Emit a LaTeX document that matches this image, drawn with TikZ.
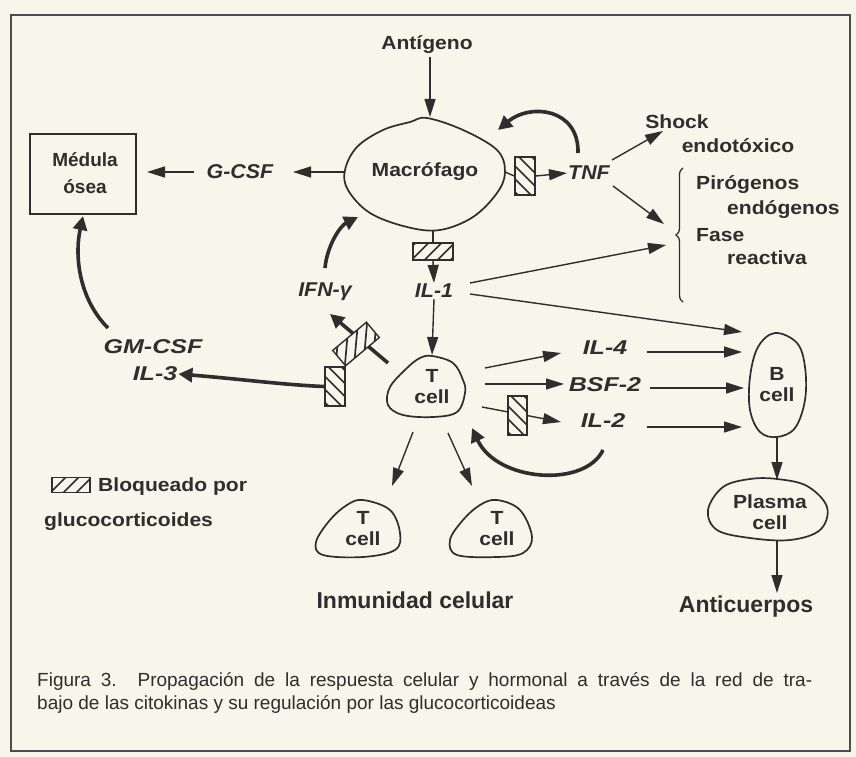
\documentclass[tikz,border=0pt]{standalone}
\usepackage{fontspec}
\setmainfont{Liberation Sans}
\newfontfamily\lblfont[FakeStretch=1.11]{Liberation Sans}
\newfontfamily\ifont[FakeStretch=1.07]{Liberation Sans}
\newfontfamily\widefont[FakeStretch=1.25]{Liberation Sans}
\newfontfamily\capfont{Liberation Sans}
\usetikzlibrary{arrows.meta,calc,decorations.pathreplacing}

\definecolor{paper}{HTML}{F8F5EA}
\definecolor{ink}{HTML}{2E2E2E}

\begin{document}
\begin{tikzpicture}[x=1pt,y=-1pt,
  lbl/.style={font=\lblfont\fontsize{19}{21}\selectfont\bfseries, text=ink, inner sep=1pt},
  ilbl/.style={font=\ifont\fontsize{20}{22}\selectfont\bfseries\itshape, text=ink, inner sep=1pt},
  wlbl/.style={font=\widefont\fontsize{20}{22}\selectfont\bfseries\itshape, text=ink, inner sep=1pt},
  biglbl/.style={font=\fontsize{23}{25}\selectfont\bfseries, text=ink, inner sep=1pt},
  celltext/.style={font=\lblfont\fontsize{19}{21}\selectfont\bfseries, text=ink, align=center, inner sep=0pt},
  captext/.style={font=\capfont\fontsize{19}{22}\selectfont, text=ink, inner sep=0pt, anchor=base west},
  outline/.style={draw=ink, line width=1.7pt},
  arr/.style={draw=ink, line width=1.4pt, -{Triangle[length=18pt,width=11pt]}},
  fatarr/.style={draw=ink, line width=3.6pt, -{Triangle[length=14pt,width=14pt]}},
  plain/.style={draw=ink, line width=1.4pt},
  hatchbox/.style n args={3}{minimum width=#1, minimum height=#2, draw=ink,
    line width=1.4pt, fill=paper, inner sep=0pt,
    path picture={
      \foreach \k in {-4,...,4}{
        \draw[ink, line width=1.7pt]
          ($(path picture bounding box.center)+(\k*13-30,#3*30)$) -- ++(60,-#3*60);
      }}},
]
% page and frame
\fill[paper] (0,0) rectangle (856,757);
\useasboundingbox (0,0) rectangle (856,757);
\draw[ink!85, line width=2pt] (11,15) rectangle (850,751);

% ---------- labels ----------
\node[lbl] (ant) at (427,45) {Antígeno};
\node[lbl] (mac) at (425,172) {Macrófago};
\node[ilbl] (gcsf) at (240,172) {G-CSF};
\node[align=center, font=\fontsize{19}{27}\selectfont\bfseries, text=ink] (med) at (85,173) {Médula\\ósea};
\node[ilbl] (tnf) at (589,173) {TNF};
\node[lbl] (shock) at (677,122) {Shock};
\node[lbl] (endo) at (738,146) {endotóxico};
\node[lbl, anchor=west] (pir) at (695,185) {Pirógenos};
\node[lbl, anchor=west] (endg) at (726,210) {endógenos};
\node[lbl, anchor=west] (fase) at (695,235) {Fase};
\node[lbl, anchor=west] (react) at (726,258) {reactiva};
\node[ilbl] (il1) at (434,291) {IL-1};
\node[ilbl] (ifn) at (325,292) {IFN-γ};
\node[wlbl] (gmcsf) at (153,347) {GM-CSF};
\node[wlbl] (il3) at (155,374) {IL-3};
\node[celltext] (tc) at (432,387) {T\\cell};
\node[wlbl] (il4) at (605,348) {IL-4};
\node[wlbl] (bsf) at (605,385) {BSF-2};
\node[wlbl] (il2) at (603,421) {IL-2};
\node[celltext] (bc) at (777,385) {B\\cell};
\node[celltext] (pc) at (770,512) {Plasma\\cell};
\node[biglbl] (anti) at (746,607) {Anticuerpos};
\node[celltext] (tc1) at (363,529) {T\\cell};
\node[celltext] (tc2) at (497,529) {T\\cell};
\node[biglbl] (inm) at (415,600) {Inmunidad celular};
\node[lbl, anchor=west] (leg1) at (97,487) {Bloqueado por};
\node[lbl, anchor=west] (leg2) at (43,522) {glucocorticoides};
\node[captext] (cap1) at (37,686)
  {\makebox[775pt][s]{Figura 3. Propagación de la respuesta celular y hormonal a través de la red de tra-}};
\node[captext] (cap2) at (37,709)
  {bajo de las citokinas y su regulación por las glucocorticoideas};

% ---------- outlines ----------
\draw[ink, line width=2.6pt] (30,134) rectangle (136,214);
\draw[outline] plot[smooth cycle, tension=0.6] coordinates {
  (427,118) (463,130) (497,150) (505,172) (497,193) (473,217) (440,230)
  (407,227) (370,213) (348,190) (345,170) (357,147) (383,130) (410,122)};
\draw[outline] plot[smooth cycle, tension=0.6] coordinates {
  (432,356) (453,363) (463,380) (465,393) (457,412) (433,417) (403,415)
  (388,405) (390,387) (407,368) (420,358)};
\draw[outline] plot[smooth cycle, tension=0.6] coordinates {
  (363,500) (390,510) (400,533) (395,550) (363,557) (323,555) (316,542) (330,520) (347,505)};
\draw[outline] plot[smooth cycle, tension=0.6] coordinates {
  (497,500) (520,510) (532,537) (523,553) (497,557) (457,555) (450,540) (463,520) (480,505)};
\draw[outline] plot[smooth cycle, tension=0.6] coordinates {
  (775,333) (797,343) (805,367) (805,400) (795,428) (777,437) (760,432) (750,410) (750,377) (758,347)};
\draw[outline] plot[smooth cycle, tension=0.6] coordinates {
  (777,479) (807,486) (827,507) (820,530) (790,540) (750,538) (717,530) (708,510) (723,487) (750,479)};

% ---------- anchor points on the cell outlines and free arrow ends ----------
\coordinate (macN) at (430,117);
\coordinate (macW) at (345,172);
\coordinate (macE) at (505,172);
\coordinate (macS) at (433,230);
\coordinate (macSW) at (358,217);
\coordinate (macNE) at (498,130);
\coordinate (tcN) at (432,355);
\coordinate (tcNW) at (388,363);
\coordinate (tcE1) at (485,368);
\coordinate (tcE2) at (485,384);
\coordinate (tcE3) at (482,407);
\coordinate (tcSE) at (472,428);
\coordinate (tcS1) at (413,432);
\coordinate (tcS2) at (448,433);
\coordinate (tc1N) at (392,486);
\coordinate (tc2N) at (472,486);
\coordinate (bcW0) at (742,332);
\coordinate (bcW1) at (742,352);
\coordinate (bcW2) at (744,388);
\coordinate (bcW3) at (742,427);
\coordinate (bcS) at (777,437);
\coordinate (pcN) at (777,480);
\coordinate (pcS) at (777,540);
\coordinate (medS) at (83,216);
\coordinate (medE) at (147,172);
\coordinate (gcsfE) at (293,172);
\coordinate (gcsfW) at (194,172);
\coordinate (il4W) at (561,353);
\coordinate (bsfW) at (564,384);
\coordinate (il2W) at (561,422);
\coordinate (pirIn1) at (664,224);
\coordinate (pirIn2) at (666,245);

% ---------- connectors ----------
\draw[arr] (ant.south) ++(3,2) coordinate (antS) -- (macN);
\draw[arr] (macW) -- (gcsfE);
\draw[arr] (gcsfW) -- (medE);
\draw[arr] (612,160) coordinate (tnfNE) -- (663,131) coordinate (shockSW);
\draw[arr] (613,186) coordinate (tnfSE) -- (pirIn1);
\draw[arr] (470,283) coordinate (il1NE) -- (pirIn2);
\draw[arr] (470,294) coordinate (il1E) -- (bcW0);
\draw[arr] (il1.south) -- (tcN);
\draw[fatarr] (325,268) coordinate (ifnN) .. controls (327,246) and (340,226) .. (macSW);
\draw[fatarr] (578,153) coordinate (tnfN)
  .. controls (579,108) and (530,103) .. (macNE);
\draw[fatarr] (tcNW) -- (330,314) coordinate (ifnTip);
\draw[fatarr] (108,328) coordinate (gmN)
  .. controls (80,300) and (74,258) .. (medS);
\draw[arr] (tcE1) -- (il4W);
\draw[arr] (tcE2) -- (bsfW);
\draw[arr] (tcE3) -- (il2W);
\draw[fatarr] (603,450) coordinate (il2S)
  .. controls (585,488) and (497,482) .. (tcSE);
\draw[arr] (647,352) coordinate (il4E) -- (bcW1);
\draw[arr] (650,388) coordinate (bsfE) -- (bcW2);
\draw[arr] (647,427) coordinate (il2E) -- (bcW3);
\draw[arr] (tcS1) -- (tc1N);
\draw[arr] (tcS2) -- (tc2N);
\draw[arr] (bcS) -- (pcN);
\draw[arr] (pcS) -- (777,593) coordinate (antiN);

% ---------- blocking boxes ----------
\node[hatchbox={20}{38}{-1}] (hbTnf) at (525,176) {};
\draw[plain] (macE) -- (hbTnf.west);
\draw[arr] (hbTnf.east) -- (tnf.west);
\node[hatchbox={40}{17}{1}] (hbIl1) at (433,251.5) {};
\draw[plain] (macS) -- (hbIl1.north);
\draw[arr] (hbIl1.south) -- (il1.north);
\node[hatchbox={20}{39}{-1}] (hbIl3) at (335,386.5) {};
\draw[fatarr] (hbIl3.west) .. controls (285,385) and (240,379) .. (il3.east);
\node[hatchbox={44}{20}{1}, rotate=40] (hbIfn) at (356,344) {};
\node[hatchbox={19}{39}{-1}] (hbIl2) at (517.5,415.5) {};
\node[hatchbox={38}{15}{1}] (hbLeg) at (71,485) {};

% brace
\draw[ink, line width=1.3pt, decorate, decoration={brace, amplitude=7pt}] (683,302) -- (683,168);
\end{tikzpicture}
\end{document}
